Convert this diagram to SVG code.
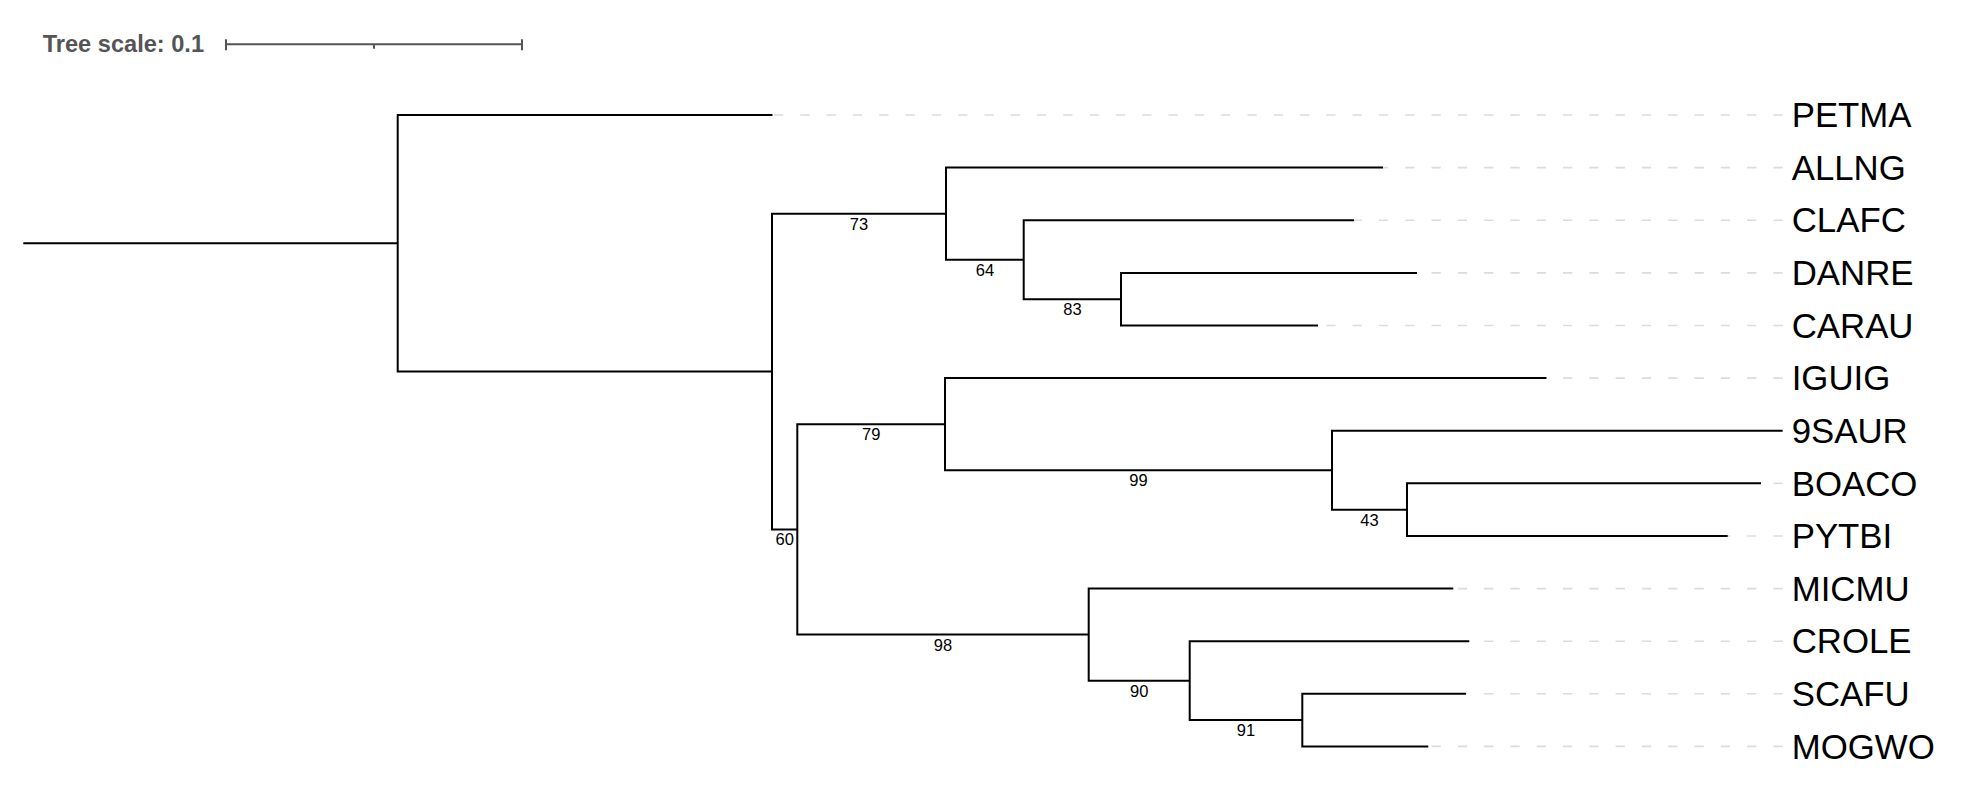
<svg xmlns="http://www.w3.org/2000/svg" width="1982" height="810" viewBox="0 0 1982 810">
<style>
.br{fill:none;stroke:#000;stroke-width:2;stroke-linejoin:miter;stroke-linecap:butt}
.dash{fill:none;stroke:#dcdcdc;stroke-width:1.6;stroke-dasharray:9.3 17}
.leaf{font-family:"Liberation Sans",Arial,sans-serif;font-size:34.8px;fill:#000}
.sup{font-family:"Liberation Sans",Arial,sans-serif;font-size:16.5px;fill:#000;text-anchor:middle}
.scale{fill:none;stroke:#555;stroke-width:2}
.scaletxt{font-family:"Liberation Sans",Arial,sans-serif;font-size:23.6px;font-weight:bold;fill:#555}
</style>
<rect width="1982" height="810" fill="#fff"/>
<g id="tree-scale">
<text class="scaletxt" x="42.7" y="51.9">Tree scale: 0.1</text>
<path class="scale" d="M226 44.3 H522 M226 39.3 V50.3 M522 39.3 V50.3 M374 44.3 V48.8"/>
</g>
<g id="connectors">
<g id="guides">
<path class="dash" d="M1782.7 115 H772.5"/>
<path class="dash" d="M1782.7 167.6 H1383"/>
<path class="dash" d="M1782.7 220.2 H1354"/>
<path class="dash" d="M1782.7 272.9 H1417"/>
<path class="dash" d="M1782.7 325.5 H1318"/>
<path class="dash" d="M1782.7 378.1 H1546.5"/>
<path class="dash" d="M1782.7 483.3 H1761"/>
<path class="dash" d="M1782.7 536 H1727.7"/>
<path class="dash" d="M1782.7 588.6 H1453.3"/>
<path class="dash" d="M1782.7 641.2 H1469.3"/>
<path class="dash" d="M1782.7 693.8 H1466"/>
<path class="dash" d="M1782.7 746.4 H1428.3"/>
</g>
<path class="br" d="M23.3 243.25 H397.7"/>
<path class="br" d="M772.5 115 H397.7 V371.5 H772"/>
<path class="br" d="M946 213.65 H772 V529.4 H797.3"/>
<path class="br" d="M1383 167.6 H946 V259.7 H1023.7"/>
<path class="br" d="M1354 220.2 H1023.7 V299.2 H1121"/>
<path class="br" d="M1417 272.9 H1121 V325.5 H1318"/>
<path class="br" d="M945 424.15 H797.3 V634.6 H1088.7"/>
<path class="br" d="M1546.5 378.1 H945 V470.2 H1332"/>
<path class="br" d="M1782.7 430.7 H1332 V509.65 H1407"/>
<path class="br" d="M1761 483.3 H1407 V536 H1727.7"/>
<path class="br" d="M1453.3 588.6 H1088.7 V680.65 H1189.7"/>
<path class="br" d="M1469.3 641.2 H1189.7 V720.1 H1302.3"/>
<path class="br" d="M1466 693.8 H1302.3 V746.4 H1428.3"/>
</g>
<g id="node-73"><text class="sup" x="859" y="229.7">73</text></g>
<g id="node-64"><text class="sup" x="984.9" y="275.7">64</text></g>
<g id="node-83"><text class="sup" x="1072.4" y="315.2">83</text></g>
<g id="node-60"><text class="sup" x="784.7" y="545.4">60</text></g>
<g id="node-79"><text class="sup" x="871.2" y="440.1">79</text></g>
<g id="node-99"><text class="sup" x="1138.5" y="486.2">99</text></g>
<g id="node-43"><text class="sup" x="1369.5" y="525.6">43</text></g>
<g id="node-98"><text class="sup" x="943" y="650.6">98</text></g>
<g id="node-90"><text class="sup" x="1139.2" y="696.7">90</text></g>
<g id="node-91"><text class="sup" x="1246" y="736.1">91</text></g>
<g id="leaf-PETMA"><text class="leaf" x="1791.7" y="127.2">PETMA</text></g>
<g id="leaf-ALLNG"><text class="leaf" x="1791.7" y="179.8">ALLNG</text></g>
<g id="leaf-CLAFC"><text class="leaf" x="1791.7" y="232.4">CLAFC</text></g>
<g id="leaf-DANRE"><text class="leaf" x="1791.7" y="285.1">DANRE</text></g>
<g id="leaf-CARAU"><text class="leaf" x="1791.7" y="337.7">CARAU</text></g>
<g id="leaf-IGUIG"><text class="leaf" x="1791.7" y="390.3">IGUIG</text></g>
<g id="leaf-9SAUR"><text class="leaf" x="1791.7" y="442.9">9SAUR</text></g>
<g id="leaf-BOACO"><text class="leaf" x="1791.7" y="495.5">BOACO</text></g>
<g id="leaf-PYTBI"><text class="leaf" x="1791.7" y="548.2">PYTBI</text></g>
<g id="leaf-MICMU"><text class="leaf" x="1791.7" y="600.8">MICMU</text></g>
<g id="leaf-CROLE"><text class="leaf" x="1791.7" y="653.4">CROLE</text></g>
<g id="leaf-SCAFU"><text class="leaf" x="1791.7" y="706">SCAFU</text></g>
<g id="leaf-MOGWO"><text class="leaf" x="1791.7" y="758.6">MOGWO</text></g>
</svg>
